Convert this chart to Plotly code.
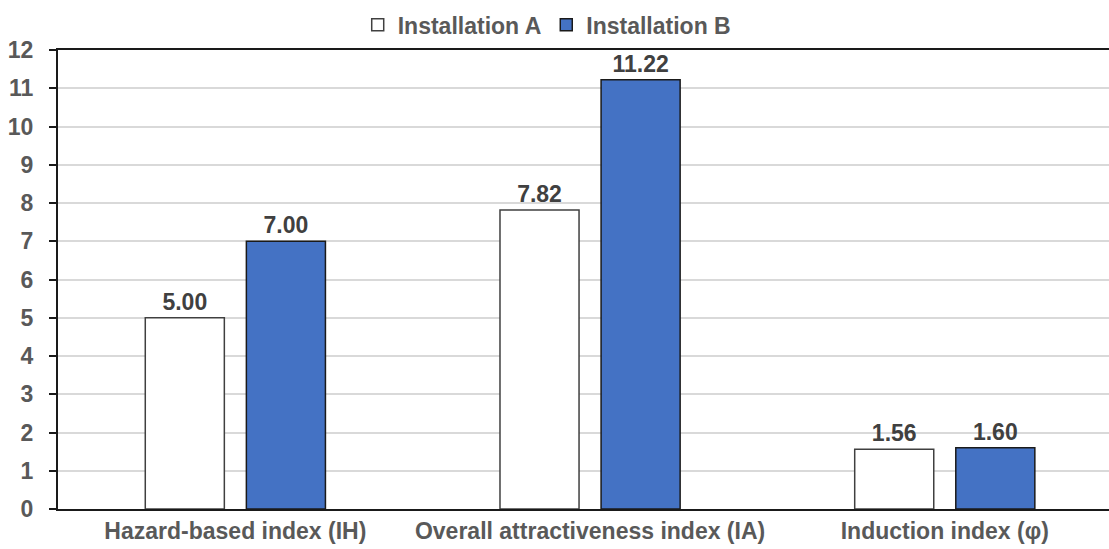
import plotly.graph_objects as go

categories = ["Hazard-based index (IH)", "Overall attractiveness index (IA)", "Induction index (φ)"]
installation_a = [5.00, 7.82, 1.56]
installation_b = [7.00, 11.22, 1.60]
y_ticks = list(range(0, 13))

FONT = "Liberation Sans, Arial, sans-serif"
LABEL_GRAY = "#595959"
VALUE_GRAY = "#404040"

fig = go.Figure()
fig.add_trace(go.Bar(
    name="<b>Installation A</b>",
    x=categories, y=installation_a,
    marker=dict(color="#ffffff", line=dict(color="#404040", width=1.5)),
    text=[f"<b>{v:.2f}</b>" for v in installation_a],
    textposition="outside",
    textfont=dict(family=FONT, size=23, color=VALUE_GRAY),
    cliponaxis=False,
))
fig.add_trace(go.Bar(
    name="<b>Installation B</b>",
    x=categories, y=installation_b,
    marker=dict(color="#4472c4", line=dict(color="#1a1a1a", width=1.5)),
    text=[f"<b>{v:.2f}</b>" for v in installation_b],
    textposition="outside",
    textfont=dict(family=FONT, size=23, color=VALUE_GRAY),
    cliponaxis=False,
))

fig.update_layout(
    width=1109, height=549,
    margin=dict(l=58, r=0, t=50, b=40),
    paper_bgcolor="white", plot_bgcolor="white",
    barmode="group", bargap=0.43, bargroupgap=0.218,
    font=dict(family=FONT, size=23, color=LABEL_GRAY),
    showlegend=True,
    legend=dict(orientation="h", x=0.465, xanchor="center", y=1.055, yanchor="middle",
                bgcolor="rgba(0,0,0,0)",
                font=dict(family=FONT, size=23, color=LABEL_GRAY),
                itemwidth=30, traceorder="normal"),
)
fig.update_xaxes(
    range=[-0.5, 2.463], showline=True, linecolor="#1a1a1a", linewidth=2, mirror=True,
    showgrid=False, ticks="", automargin=False,
    tickvals=categories, ticktext=[f"<b>{c}</b>" for c in categories],
    tickfont=dict(family=FONT, size=23, color=LABEL_GRAY),
)
fig.update_yaxes(
    range=[0, 12], tickvals=y_ticks, ticktext=[f"<b>{t}</b>" for t in y_ticks],
    showline=True, linecolor="#1a1a1a", linewidth=2,
    ticks="outside", ticklen=7, tickcolor="#1a1a1a", tickwidth=1.5,
    showgrid=True, gridcolor="#d9d9d9", gridwidth=1.5, zeroline=False,
    tickfont=dict(family=FONT, size=23, color=LABEL_GRAY),
    ticklabelstandoff=11, automargin=False,
)

fig.write_html("out.html")
